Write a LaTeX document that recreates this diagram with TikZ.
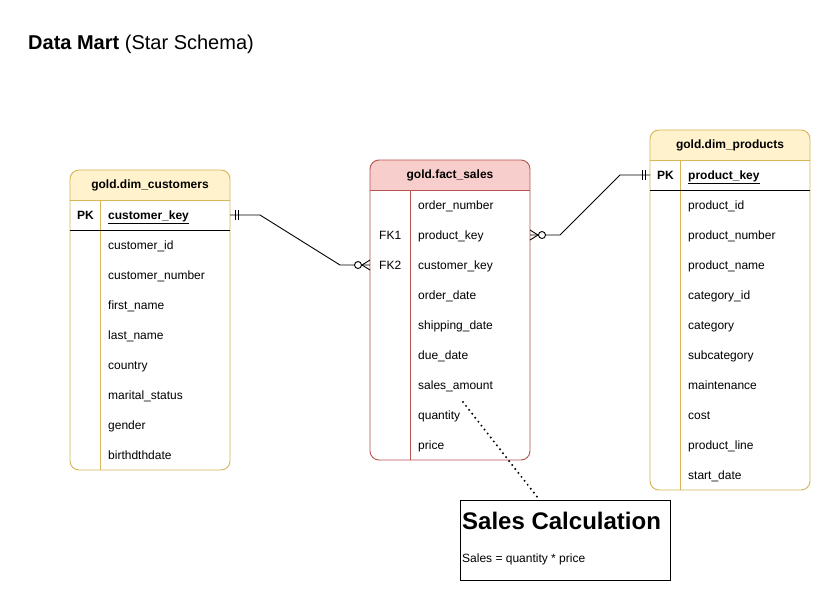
\documentclass[tikz,border=0pt]{standalone}
\usepackage{fontspec}
\setmainfont{Liberation Sans}
\usetikzlibrary{calc}
\definecolor{hdrY}{HTML}{FFF2CC}
\definecolor{brdY}{HTML}{D6B656}
\definecolor{hdrR}{HTML}{F8CECC}
\definecolor{brdR}{HTML}{B85450}
\tikzset{
  fld/.style={anchor=base west,inner sep=0pt,font=\fontsize{12}{14}\selectfont},
  keylbl/.style={anchor=base west,inner sep=0pt,font=\fontsize{12}{14}\selectfont\bfseries},
  hdr/.style={inner sep=0pt,font=\fontsize{12}{14}\selectfont\bfseries},
  conn/.style={line width=0.9pt,black},
  sym/.style={line width=0.9pt,black},
}
\newcommand\ertab[8]{% #1 x0 #2 y0 #3 x1 #4 y1 #5 hdr bottom #6 divider x #7 fill #8 border
  \begin{scope}
    \clip[rounded corners=9] (#1,#2) rectangle (#3,#4);
    \fill[white] (#1,#2) rectangle (#3,#4);
    \fill[#7] (#1,#2) rectangle (#3,#5);
  \end{scope}
  \draw[#8,line width=0.9pt] (#1,#5) -- (#3,#5);
  \draw[#8,line width=0.9pt] (#6,#5) -- (#6,#4);
  \draw[#8,line width=0.9pt,rounded corners=9] (#1,#2) rectangle (#3,#4);
}
\begin{document}
\begin{tikzpicture}[x=1pt,y=-1pt]
\useasboundingbox[fill=white] (0,0) rectangle (831,603);

% title
\node[anchor=base west,inner sep=0pt,font=\fontsize{20}{24}\selectfont] (title) at (28,49) {\textbf{Data Mart} (Star Schema)};

% ---------- customers ----------
\ertab{70}{170}{230}{470}{200}{100}{hdrY}{brdY}
\draw[black,line width=0.9pt] (70,230) -- (230,230);
\node[hdr] (cust-h) at (150,185) {gold.dim\_customers};
\node[keylbl] (cust-pkl) at (77,219.3) {PK};
\node[keylbl] (cust-pk) at (108,219.3) {\underline{customer\_key}};
\foreach \t [count=\i from 0] in {customer\_id,customer\_number,first\_name,last\_name,country,marital\_status,gender,birthdthdate}{
  \node[fld] (cust-\i) at (108,249.3+30*\i) {\t};
}
\coordinate (cust-r) at (230,215);

% ---------- fact ----------
\ertab{370}{160}{530}{460}{190}{410}{hdrR}{brdR}
\node[hdr] (fact-h) at (450,175) {gold.fact\_sales};
\foreach \t [count=\i from 0] in {order\_number,product\_key,customer\_key,order\_date,shipping\_date,due\_date,sales\_amount,quantity,price}{
  \node[fld] (fact-\i) at (418,209.3+30*\i) {\t};
}
\node[fld] (fk1) at (379,239.3) {FK1};
\node[fld] (fk2) at (379,269.3) {FK2};
\coordinate (fact-l) at (370,265);
\coordinate (fact-r) at (530,235);

% ---------- products ----------
\ertab{650}{130}{810}{490}{160}{680}{hdrY}{brdY}
\draw[black,line width=0.9pt] (650,190) -- (810,190);
\node[hdr] (prod-h) at (730,145) {gold.dim\_products};
\node[keylbl] (prod-pkl) at (657,179.3) {PK};
\node[keylbl] (prod-pk) at (688,179.3) {\underline{product\_key}};
\foreach \t [count=\i from 0] in {product\_id,product\_number,product\_name,category\_id,category,subcategory,maintenance,cost,product\_line,start\_date}{
  \node[fld] (prod-\i) at (688,209.3+30*\i) {\t};
}
\coordinate (prod-l) at (650,175);

% ---------- connectors ----------
\draw[conn] (cust-r) -- ++(30,0) -- ($(fact-l)+(-30,0)$) -- (fact-l);
\draw[conn] (fact-r) -- ++(30,0) -- ($(prod-l)+(-30,0)$) -- (prod-l);

% mandatory one at customers
\draw[sym] ($(cust-r)+(5,-5)$) -- ++(0,10);
\draw[sym] ($(cust-r)+(8,-5)$) -- ++(0,10);
% mandatory one at products
\draw[sym] ($(prod-l)+(-5,-5)$) -- ++(0,10);
\draw[sym] ($(prod-l)+(-8,-5)$) -- ++(0,10);
% zero to many at fact left
\draw[sym] ($(fact-l)+(0,-5)$) -- ($(fact-l)+(-8,0)$) -- ($(fact-l)+(0,5)$);
\draw[sym,fill=white] ($(fact-l)+(-12,0)$) circle (3.5);
% zero to many at fact right
\draw[sym] ($(fact-r)+(0,-5)$) -- ($(fact-r)+(8,0)$) -- ($(fact-r)+(0,5)$);
\draw[sym,fill=white] ($(fact-r)+(12,0)$) circle (3.5);

% ---------- note ----------
\node[draw=black,line width=0.9pt,minimum width=210pt,minimum height=80pt,inner sep=0pt,anchor=north west] (calc) at (460,500) {};
\node[anchor=base west,inner sep=0pt,font=\fontsize{24}{28}\selectfont\bfseries] (calc-t) at (462,529.5) {Sales Calculation};
\node[fld] (calc-f) at (462,562.3) {Sales = quantity * price};
\coordinate (note-s) at (463,402);
\draw[line width=2.2pt,line cap=round,dash pattern=on 0pt off 5pt] (note-s) -- ($(calc.north west)+(78,-2)$);
\end{tikzpicture}
\end{document}
